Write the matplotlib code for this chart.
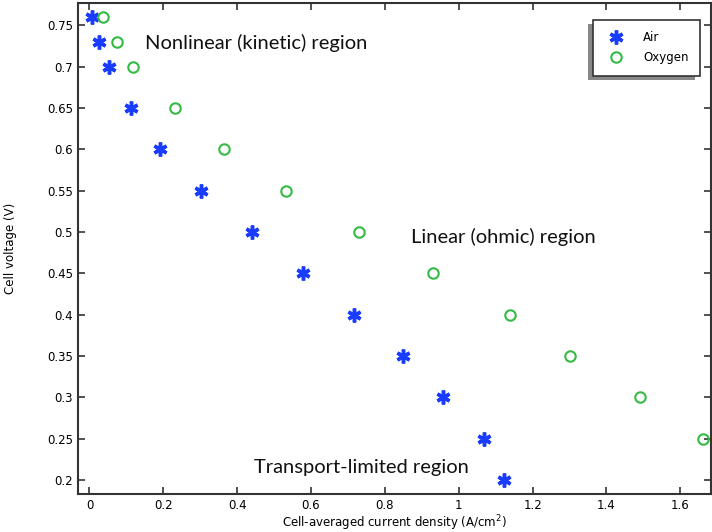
import matplotlib.pyplot as plt
from matplotlib.patches import Rectangle
from matplotlib.transforms import IdentityTransform

air_v = [0.76, 0.73, 0.70, 0.65, 0.60, 0.55, 0.50, 0.45, 0.40, 0.35, 0.30, 0.25, 0.20]
air_i = [0.007, 0.026, 0.053, 0.113, 0.191, 0.302, 0.440, 0.579, 0.716, 0.849, 0.957, 1.068, 1.122]
oxy_v = [0.76, 0.73, 0.70, 0.65, 0.60, 0.55, 0.50, 0.45, 0.40, 0.35, 0.30, 0.25]
oxy_i = [0.037, 0.075, 0.118, 0.232, 0.365, 0.532, 0.730, 0.930, 1.139, 1.302, 1.491, 1.661]

xticks = [0, 0.2, 0.4, 0.6, 0.8, 1.0, 1.2, 1.4, 1.6]
xtick_labels = ['0', '0.2', '0.4', '0.6', '0.8', '1', '1.2', '1.4', '1.6']
yticks = [0.2, 0.25, 0.3, 0.35, 0.4, 0.45, 0.5, 0.55, 0.6, 0.65, 0.7, 0.75]
ytick_labels = ['0.2', '0.25', '0.3', '0.35', '0.4', '0.45', '0.5', '0.55', '0.6', '0.65', '0.7', '0.75']

fig = plt.figure(figsize=(7.12, 5.32), dpi=100)
ax = fig.add_axes([78/712, 38/532, 633/712, 491/532])

ax.plot(air_i, air_v, linestyle='none', marker=(6, 2, 0), markersize=10,
        markeredgewidth=2.5, color='#1a3cff', label='Air')
ax.plot(oxy_i, oxy_v, linestyle='none', marker='o', markersize=7.5,
        markerfacecolor='none', markeredgewidth=1.5, color='#33bb44', label='Oxygen')

ax.set_xlim(-0.031, 1.683)
ax.set_ylim(0.183, 0.777)
ax.set_xticks(xticks)
ax.set_xticklabels(xtick_labels)
ax.set_yticks(yticks)
ax.set_yticklabels(ytick_labels)
ax.tick_params(direction='in', top=True, right=True, labelsize=8.5, length=5,
               color='#333333', width=1.2)
for s in ax.spines.values():
    s.set_color('#333333')
    s.set_linewidth(1.5)

ax.set_xlabel('Cell-averaged current density (A/cm$^2$)', fontsize=8.5, labelpad=1)
ax.set_ylabel('Cell voltage (V)', fontsize=8.5, labelpad=22)

txt = dict(fontsize=14.5, family='Lato', color='#111111', va='center', ha='left')
ax.text(0.151, 0.729, 'Nonlinear (kinetic) region', **txt)
ax.text(0.871, 0.494, 'Linear (ohmic) region', **txt)
ax.text(0.446, 0.2145, 'Transport-limited region', **txt)

leg = ax.legend(loc='upper right', bbox_to_anchor=(0.982, 0.965), fontsize=8.5,
                fancybox=False, edgecolor='#333333', facecolor='white',
                framealpha=1, borderpad=0.95, handletextpad=1.3,
                labelspacing=0.6, borderaxespad=0)
leg.get_frame().set_linewidth(1.2)
leg.set_zorder(6)

# shadow sits to the lower-left of the legend box
fig.canvas.draw()
bb = leg.get_window_extent()
ax.add_patch(Rectangle((bb.x0 - 5, bb.y0 - 4), bb.width, bb.height,
                       transform=IdentityTransform(), facecolor='#888888',
                       edgecolor='none', zorder=5.5, clip_on=False))

fig.savefig('out.png', dpi=100)
